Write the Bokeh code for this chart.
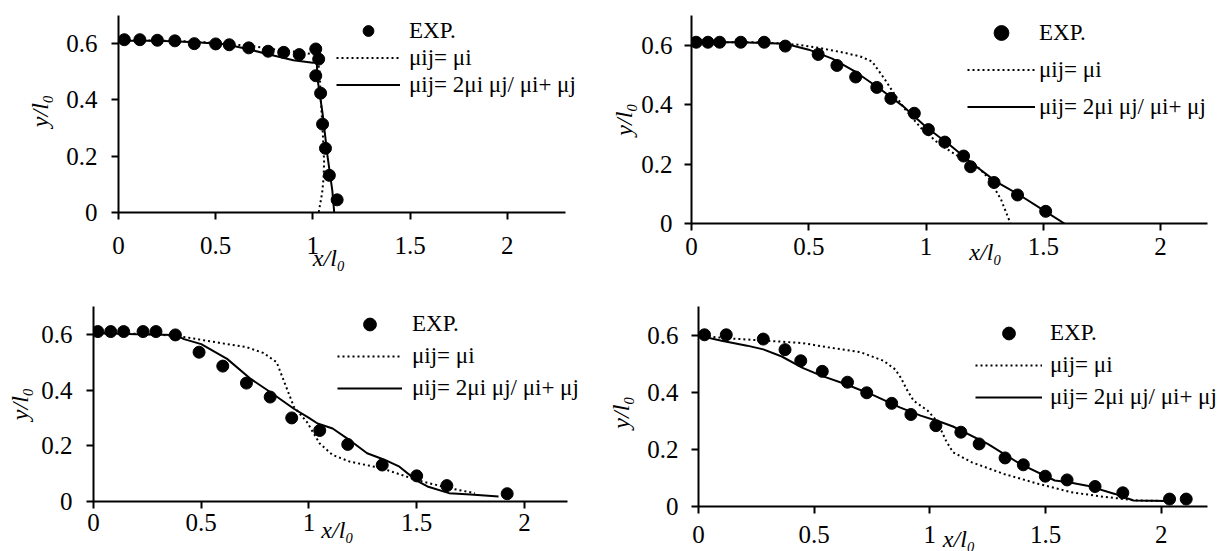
from bokeh.plotting import figure
from bokeh.layouts import column, row
from bokeh.models import Legend, LegendItem, FixedTicker, Range1d
from bokeh.embed import file_html
from bokeh.resources import INLINE

FONT = "Liberation Serif"
NBSP = "\u00a0"

# ---------------- data ----------------
x_ticks = [0, 0.5, 1, 1.5, 2]
x_tick_labels = ["0", "0.5", "1", "1.5", "2"]
y_ticks = [0, 0.2, 0.4, 0.6]
y_tick_labels = ["0", "0.2", "0.4", "0.6"]
x_title = "x/l\u2080"
y_title = "y/l\u2080"
legend_labels = ["EXP.", "\u03bcij= \u03bci", "\u03bcij= 2\u03bci \u03bcj/ \u03bci+ \u03bcj"]

# panel a (top-left)
exp_a_x = [0.03, 0.11, 0.20, 0.29, 0.39, 0.50, 0.57, 0.67, 0.77, 0.85, 0.93, 1.015, 1.03, 1.015, 1.04, 1.05, 1.065, 1.085, 1.125]
exp_a_y = [0.614, 0.614, 0.612, 0.610, 0.600, 0.599, 0.596, 0.585, 0.573, 0.569, 0.561, 0.581, 0.545, 0.486, 0.424, 0.314, 0.228, 0.132, 0.045]
dot_a_x = [0, 0.3, 0.5, 0.7, 0.85, 0.95, 1.02, 1.035, 1.041, 1.05, 1.058, 1.055, 1.048, 1.03]
dot_a_y = [0.612, 0.61, 0.603, 0.59, 0.575, 0.568, 0.56, 0.5, 0.4, 0.3, 0.18, 0.12, 0.07, 0.0]
sol_a_x = [0, 0.2, 0.4, 0.55, 0.67, 0.77, 0.9, 1.0, 1.02, 1.025, 1.05, 1.076, 1.10, 1.11]
sol_a_y = [0.61, 0.61, 0.605, 0.598, 0.58, 0.562, 0.541, 0.532, 0.535, 0.47, 0.352, 0.198, 0.079, 0.0]

# panel b (top-right)
exp_b_x = [0.02, 0.07, 0.12, 0.21, 0.31, 0.40, 0.54, 0.62, 0.70, 0.79, 0.85, 0.95, 1.01, 1.08, 1.16, 1.19, 1.29, 1.39, 1.51]
exp_b_y = [0.61, 0.61, 0.61, 0.61, 0.61, 0.597, 0.569, 0.532, 0.493, 0.458, 0.421, 0.371, 0.316, 0.274, 0.227, 0.191, 0.138, 0.096, 0.041]
dot_b_x = [0, 0.3, 0.45, 0.55, 0.65, 0.72, 0.77, 0.82, 0.87, 0.91, 0.98, 1.06, 1.15, 1.22, 1.27, 1.32, 1.36]
dot_b_y = [0.61, 0.61, 0.602, 0.59, 0.575, 0.562, 0.545, 0.49, 0.43, 0.385, 0.32, 0.265, 0.22, 0.19, 0.15, 0.08, 0.0]
sol_b_x = [0, 0.2, 0.4, 0.5, 0.6, 0.7, 0.8, 0.9, 1.0, 1.1, 1.2, 1.3, 1.4, 1.5, 1.59]
sol_b_y = [0.61, 0.61, 0.605, 0.585, 0.555, 0.51, 0.455, 0.396, 0.325, 0.265, 0.2, 0.14, 0.095, 0.045, 0.0]

# panel c (bottom-left)
exp_c_x = [0.02, 0.08, 0.14, 0.23, 0.29, 0.38, 0.49, 0.60, 0.71, 0.82, 0.92, 1.05, 1.18, 1.34, 1.50, 1.64, 1.92]
exp_c_y = [0.61, 0.61, 0.61, 0.61, 0.61, 0.598, 0.536, 0.486, 0.425, 0.375, 0.30, 0.255, 0.205, 0.131, 0.092, 0.057, 0.028]
dot_c_x = [0, 0.3, 0.434, 0.573, 0.711, 0.789, 0.85, 0.88, 0.91, 0.93, 0.99, 1.05, 1.11, 1.19, 1.34, 1.5, 1.65, 1.77]
dot_c_y = [0.605, 0.6, 0.589, 0.571, 0.554, 0.533, 0.5, 0.44, 0.38, 0.34, 0.286, 0.208, 0.167, 0.143, 0.119, 0.077, 0.048, 0.03]
sol_c_x = [0, 0.2, 0.38, 0.42, 0.5, 0.62, 0.73, 0.82, 0.93, 1.0, 1.04, 1.11, 1.18, 1.27, 1.35, 1.42, 1.5, 1.55, 1.65, 1.75, 1.88]
sol_c_y = [0.605, 0.6, 0.598, 0.583, 0.565, 0.512, 0.44, 0.393, 0.333, 0.3, 0.28, 0.262, 0.225, 0.173, 0.15, 0.125, 0.075, 0.054, 0.03, 0.025, 0.018]

# panel d (bottom-right)
exp_d_x = [0.026, 0.12, 0.28, 0.374, 0.442, 0.535, 0.644, 0.727, 0.835, 0.918, 1.026, 1.134, 1.213, 1.325, 1.404, 1.499, 1.593, 1.714, 1.834, 2.036, 2.108]
exp_d_y = [0.601, 0.601, 0.586, 0.549, 0.51, 0.473, 0.435, 0.398, 0.361, 0.322, 0.283, 0.26, 0.219, 0.17, 0.146, 0.106, 0.093, 0.07, 0.048, 0.026, 0.026]
dot_d_x = [0, 0.14, 0.3, 0.45, 0.56, 0.7, 0.8, 0.85, 0.875, 0.9, 0.93, 0.99, 1.03, 1.07, 1.1, 1.18, 1.32, 1.47, 1.61, 1.76, 1.9, 2.04]
dot_d_y = [0.598, 0.588, 0.58, 0.572, 0.557, 0.54, 0.51, 0.48, 0.45, 0.41, 0.37, 0.336, 0.3, 0.23, 0.19, 0.155, 0.114, 0.079, 0.05, 0.033, 0.021, 0.019]
sol_d_x = [0, 0.1, 0.21, 0.28, 0.36, 0.45, 0.53, 0.64, 0.76, 0.87, 0.96, 1.05, 1.1, 1.25, 1.39, 1.54, 1.6, 1.68, 1.8, 1.88, 2.03]
sol_d_y = [0.598, 0.58, 0.563, 0.55, 0.525, 0.485, 0.458, 0.427, 0.388, 0.347, 0.318, 0.295, 0.28, 0.219, 0.149, 0.091, 0.085, 0.073, 0.044, 0.021, 0.019]

TEXT_H = 27  # legend row height produced by 23px text


def panel(cfg, ex, ey, dx, dy, sx, sy):
    fl, ft, fw, fh = cfg["frame"]          # absolute frame position (px)
    bl, bt, br, bb = cfg["border"]
    axis_w = cfg["axis_w"]                  # pixel length of the drawn x axis
    xmax = cfg["xmax"]
    x_end = xmax * fw / axis_w              # frame extends past the axis for the legend
    p = figure(frame_width=fw, frame_height=fh,
               min_border_left=bl, min_border_top=bt, min_border_right=br, min_border_bottom=bb,
               x_range=Range1d(0, x_end), y_range=Range1d(0, 0.7),
               output_backend="svg", toolbar_location=None,
               outline_line_color=None, background_fill_color="white", border_fill_color="white")
    p.xgrid.visible = False
    p.ygrid.visible = False
    p.xaxis.ticker = FixedTicker(ticks=x_ticks)
    p.xaxis.major_label_overrides = {t: l for t, l in zip(x_ticks, x_tick_labels)}
    p.xaxis.bounds = (0, xmax)
    p.yaxis.ticker = FixedTicker(ticks=y_ticks)
    p.yaxis.major_label_overrides = {t: l for t, l in zip(y_ticks, y_tick_labels)}
    for ax in (p.xaxis[0], p.yaxis[0]):
        ax.axis_line_width = 2
        ax.axis_line_color = "black"
        ax.major_tick_line_width = 2
        ax.major_tick_line_color = "black"
        ax.major_tick_out = 7
        ax.major_tick_in = 0
        ax.minor_tick_out = 0
        ax.minor_tick_in = 0
        ax.major_label_text_font = FONT
        ax.major_label_text_font_size = "25px"
        ax.major_label_text_color = "black"
        ax.axis_label_text_font = FONT
        ax.axis_label_text_font_style = "italic"
        ax.axis_label_text_font_size = "24px"
        ax.axis_label_text_color = "black"
    p.xaxis.major_label_standoff = cfg["xstand"]
    p.yaxis.major_label_standoff = cfg["ystand"]
    lead, trail = cfg["xlab_pad"]
    p.xaxis.axis_label = NBSP * lead + x_title + NBSP * trail
    lead, trail = cfg["ylab_pad"]
    p.yaxis.axis_label = NBSP * lead + y_title + NBSP * trail
    p.xaxis.axis_label_standoff = cfg["xlab_stand"]
    p.yaxis.axis_label_standoff = cfg["ylab_stand"]

    r_dot = p.line(dx, dy, line_color="black", line_width=2, line_dash="2 3")
    r_sol = p.line(sx, sy, line_color="black", line_width=2)
    r_exp = p.scatter(ex, ey, size=12, fill_color="black", line_color="black")

    lg = cfg["legend"]
    h = max(lg["pitch"], TEXT_H)
    height = 3 * h
    top = lg["c1"] - h / 2
    legend = Legend(items=[LegendItem(label=legend_labels[0], renderers=[r_exp]),
                           LegendItem(label=legend_labels[1], renderers=[r_dot]),
                           LegendItem(label=legend_labels[2], renderers=[r_sol])],
                    location=(lg["left"] - fl, round((ft + fh) - (top + height))),
                    glyph_width=lg["gw"], glyph_height=h, label_height=h,
                    label_standoff=lg["stand"], spacing=0, padding=0, margin=0,
                    border_line_color=None, background_fill_alpha=0,
                    label_text_font=FONT, label_text_font_size="23px", label_text_color="black")
    p.add_layout(legend)
    return p


cfg_a = dict(frame=(118, 15, 487, 197), border=(118, 15, 0, 73), axis_w=447, xmax=2.3,
             xstand=17, ystand=14, xlab_stand=-12, ylab_stand=10, xlab_pad=(0, 11), ylab_pad=(1, 0),
             legend=dict(left=336, c1=30, pitch=27, gw=64, stand=9))
cfg_b = dict(frame=(691, 15, 540, 208), border=(86, 15, 0, 62), axis_w=516, xmax=2.2,
             xstand=7, ystand=12, xlab_stand=-19, ylab_stand=1, xlab_pad=(8, 0), ylab_pad=(0, 0),
             legend=dict(left=967, c1=32, pitch=37, gw=68, stand=4))
cfg_c = dict(frame=(93, 305, 512, 195), border=(93, 20, 0, 51), axis_w=474, xmax=2.2,
             xstand=5, ystand=14, xlab_stand=-17, ylab_stand=5, xlab_pad=(0, 4), ylab_pad=(0, 0),
             legend=dict(left=337, c1=323, pitch=32, gw=65, stand=10))
cfg_d = dict(frame=(698, 306, 533, 200), border=(93, 21, 0, 45), axis_w=509, xmax=2.2,
             xstand=12, ystand=13, xlab_stand=-20, ylab_stand=10, xlab_pad=(0, 2), ylab_pad=(0, 2),
             legend=dict(left=975, c1=333, pitch=32, gw=67, stand=8))

pa = panel(cfg_a, exp_a_x, exp_a_y, dot_a_x, dot_a_y, sol_a_x, sol_a_y)
pb = panel(cfg_b, exp_b_x, exp_b_y, dot_b_x, dot_b_y, sol_b_x, sol_b_y)
pc = panel(cfg_c, exp_c_x, exp_c_y, dot_c_x, dot_c_y, sol_c_x, sol_c_y)
pd = panel(cfg_d, exp_d_x, exp_d_y, dot_d_x, dot_d_y, sol_d_x, sol_d_y)

layout = column(row(pa, pb, spacing=0), row(pc, pd, spacing=0), spacing=0)
open("out.html", "w").write(file_html(layout, INLINE))
